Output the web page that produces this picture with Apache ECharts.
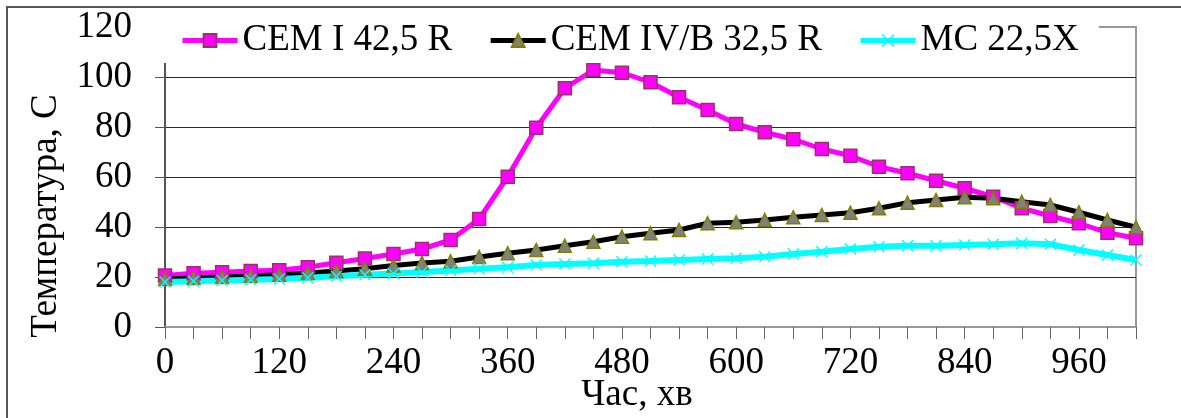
<!DOCTYPE html>
<html>
<head>
<meta charset="utf-8">
<style>
  html, body { margin: 0; padding: 0; background: #fff; }
  #chart { width: 1181px; height: 418px; }
</style>
<script src="https://cdn.jsdelivr.net/npm/echarts@6/dist/echarts.min.js"></script>
</head>
<body>
<div id="chart"></div>
<script>
// Elapsed time, minutes (one reading every 30 min)
const times = ['0', '30', '60', '90', '120', '150', '180', '210', '240', '270', '300', '330',
  '360', '390', '420', '450', '480', '510', '540', '570', '600', '630', '660', '690',
  '720', '750', '780', '810', '840', '870', '900', '930', '960', '990', '1020'];

// Temperature, °C
const cemI = [20.6, 21.5, 21.9, 22.4, 22.7, 23.9, 25.7, 27.4, 29.2, 31.2, 34.8, 43.2,
  60.1, 79.7, 95.5, 102.8, 101.7, 97.9, 91.9, 86.8, 81.2, 77.9, 75.1, 71.2,
  68.5, 64.1, 61.5, 58.5, 55.5, 52.1, 47.5, 44.4, 41.5, 37.7, 35.5];
const cemIV = [19.2, 19.6, 20.0, 20.4, 20.9, 21.6, 22.4, 23.3, 24.6, 25.6, 26.3, 28.0,
  29.5, 30.8, 32.5, 34.1, 36.1, 37.5, 38.8, 41.5, 41.9, 42.8, 43.9, 44.8,
  45.7, 47.5, 49.7, 50.8, 51.9, 51.5, 50.1, 48.8, 45.9, 42.8, 39.9];
const mc = [18.0, 18.3, 18.6, 18.9, 19.2, 19.7, 20.3, 20.9, 21.4, 22.0, 22.6, 23.3,
  23.9, 24.8, 25.2, 25.5, 26.1, 26.4, 26.8, 27.2, 27.5, 28.1, 29.2, 30.1,
  31.2, 32.1, 32.5, 32.5, 32.8, 33.1, 33.5, 33.1, 30.8, 28.8, 26.8];

const seriesNames = ['CEM I 42,5 R', 'CEM IV/B 32,5 R', 'MC 22,5X'];

const FONT = "'Liberation Serif', 'Times New Roman', serif";
// Filled cross marker
const CROSS = 'path://M0,8L8,0L50,42L92,0L100,8L58,50L100,92L92,100L50,58L8,100L0,92L42,50Z';

const chart = echarts.init(document.getElementById('chart'), null, { renderer: 'canvas' });

chart.setOption({
  animation: false,
  backgroundColor: '#fff',
  textStyle: { fontFamily: FONT },
  grid: {
    left: 165, right: 45, top: 27, bottom: 91,
    show: true, borderColor: '#999', borderWidth: 2, backgroundColor: 'transparent'
  },
  legend: {
    data: seriesNames,
    left: 150, top: 12,
    padding: [10, 20, 4, 30],
    backgroundColor: '#fff',
    itemWidth: 55, itemHeight: 16, itemGap: 36,
    lineStyle: { width: 5 },
    textStyle: { fontFamily: FONT, fontSize: 37, color: '#000' }
  },
  xAxis: {
    type: 'category',
    data: times,
    boundaryGap: false,
    axisLine: { lineStyle: { color: '#999', width: 2 } },
    axisTick: { show: true, interval: 0, length: 12, lineStyle: { color: '#666', width: 1 } },
    axisLabel: { interval: 3, margin: 18, fontFamily: FONT, fontSize: 37, color: '#000' },
    splitLine: { show: false }
  },
  yAxis: {
    type: 'value',
    min: 0, max: 120, interval: 20,
    axisLine: { show: true, lineStyle: { color: '#555', width: 2 } },
    axisTick: { show: true, length: 10, lineStyle: { color: '#555', width: 1 } },
    axisLabel: { margin: 33, fontFamily: FONT, fontSize: 37, color: '#000' },
    splitLine: { show: true, showMinLine: false, showMaxLine: false, lineStyle: { color: '#2a2a2a', width: 1 } }
  },
  series: [
    {
      name: seriesNames[0], type: 'line', data: cemI,
      symbol: 'rect', symbolSize: 13,
      lineStyle: { color: '#FF00FF', width: 5 },
      itemStyle: { color: '#FF00FF', borderColor: '#993366', borderWidth: 1.5 }
    },
    {
      name: seriesNames[1], type: 'line', data: cemIV,
      symbol: 'triangle', symbolSize: 13,
      lineStyle: { color: '#000000', width: 5 },
      itemStyle: { color: '#808080', borderColor: '#808000', borderWidth: 1.5 }
    },
    {
      name: seriesNames[2], type: 'line', data: mc,
      symbol: CROSS, symbolSize: 12,
      lineStyle: { color: '#00FFFF', width: 6 },
      itemStyle: { color: '#00FFFF' }
    }
  ],
  graphic: [
    {
      // chart frame (left and top edges fall inside the page)
      type: 'rect', silent: true, z: 10,
      shape: { x: 7, y: 7, width: 1200, height: 430 },
      style: { fill: 'none', stroke: '#555', lineWidth: 2 }
    },
    {
      type: 'text', silent: true, z: 10,
      x: 46, y: 216, rotation: Math.PI / 2,
      style: {
        text: 'Температура, С', font: "37px 'Liberation Serif', 'Times New Roman', serif",
        fill: '#000', align: 'center', verticalAlign: 'middle'
      }
    },
    {
      type: 'text', silent: true, z: 10,
      x: 637, y: 395,
      style: {
        text: 'Час, хв', font: "37px 'Liberation Serif', 'Times New Roman', serif",
        fill: '#000', align: 'center', verticalAlign: 'middle'
      }
    }
  ]
});
</script>
</body>
</html>
